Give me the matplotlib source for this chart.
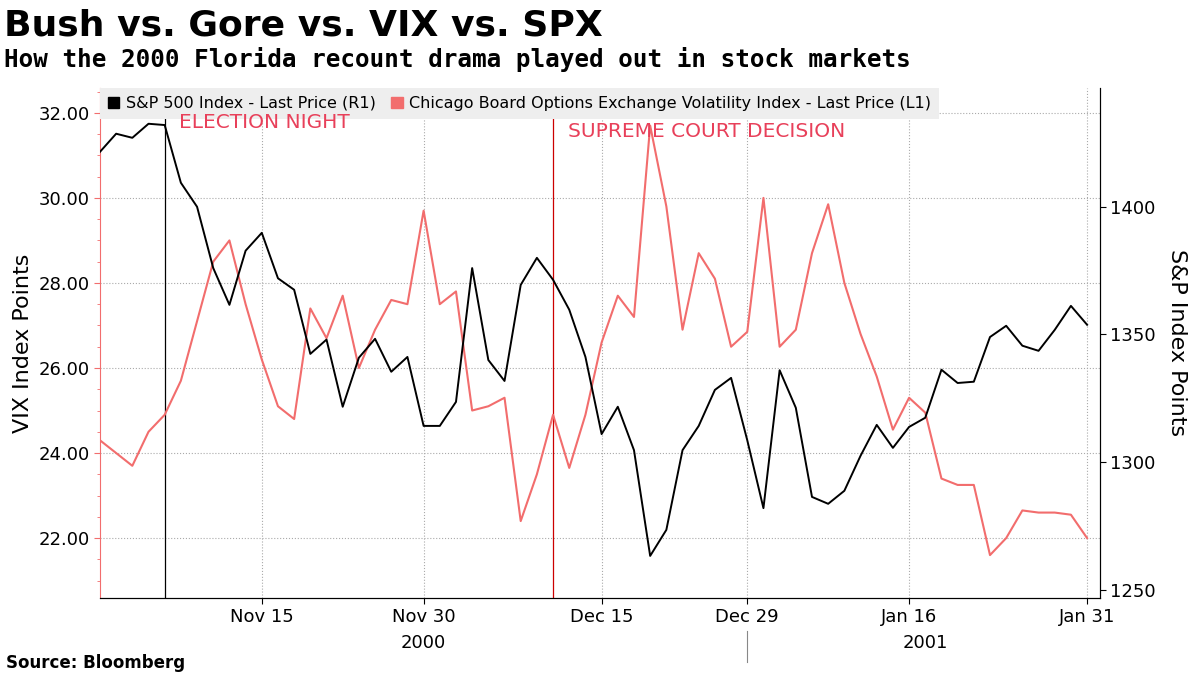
import matplotlib.pyplot as plt
import numpy as np
import pandas as pd
from matplotlib.patches import Patch

# trading days Nov 1 2000 - Jan 31 2001
holidays = ["2000-11-23", "2000-12-25", "2001-01-01", "2001-01-15"]
days = pd.bdate_range("2000-11-01", "2001-01-31")
days = days[~days.isin(pd.to_datetime(holidays))]

spx = [1421.5, 1428.6, 1427.0, 1432.5, 1432.0, 1409.4, 1400.0, 1376.0, 1361.6, 1382.8,
       1389.8, 1372.0, 1367.5, 1342.4, 1348.0, 1321.7, 1340.9, 1348.3, 1335.4, 1341.2,
       1314.2, 1314.2, 1323.6, 1376.0, 1340.0, 1331.8, 1369.4, 1380.0, 1371.4, 1359.7,
       1341.2, 1311.0, 1321.7, 1304.7, 1263.3, 1273.5, 1304.7, 1314.2, 1328.3, 1333.0,
       1308.6, 1282.0, 1336.0, 1321.3, 1286.4, 1283.7, 1288.8, 1302.5, 1314.6, 1305.6,
       1313.8, 1317.4, 1336.2, 1331.0, 1331.5, 1349.0, 1353.4, 1345.6, 1343.6, 1351.8,
       1361.2, 1353.8]
vix = [24.3, 24.0, 23.7, 24.5, 24.9, 25.7, 27.1, 28.5, 29.0, 27.5,
       26.2, 25.1, 24.8, 27.4, 26.7, 27.7, 26.0, 26.9, 27.6, 27.5,
       29.7, 27.5, 27.8, 25.0, 25.1, 25.3, 22.4, 23.5, 24.9, 23.65,
       24.9, 26.6, 27.7, 27.2, 31.7, 29.8, 26.9, 28.7, 28.1, 26.5,
       26.85, 30.0, 26.5, 26.9, 28.7, 29.85, 28.0, 26.8, 25.8, 24.55,
       25.3, 24.95, 23.4, 23.25, 23.25, 21.6, 22.0, 22.65, 22.6, 22.6,
       22.55, 22.0]
tick_dates = ["2000-11-15", "2000-11-30", "2000-12-15", "2000-12-29", "2001-01-16", "2001-01-31"]
tick_labels = ["Nov 15", "Nov 30", "Dec 15", "Dec 29", "Jan 16", "Jan 31"]
events = [("2000-11-07", "ELECTION NIGHT", "black", 0.95), ("2000-12-12", "SUPREME COURT DECISION", "#cc0000", 0.933)]

red = "#f26d6d"
x = np.arange(len(days))
pos = {d: i for i, d in enumerate(days)}

fig = plt.figure(figsize=(12, 6.75), dpi=100)
ax = fig.add_axes([0.0833, 0.114, 0.8334, 0.756])
ax2 = ax.twinx()

ax.plot(x, vix, color=red, lw=1.5, zorder=3)
ax2.plot(x, spx, color="black", lw=1.4, zorder=3)

ax.set_ylim(20.59, 32.59)
ax2.set_ylim(1246.8, 1446.6)
ax.set_xlim(0, len(x) - 0.2)
ax.set_yticks([22, 24, 26, 28, 30, 32])
ax.set_yticklabels([f"{v:.2f}" for v in [22, 24, 26, 28, 30, 32]])
ax.set_yticks(np.arange(21, 33, 0.5), minor=True)
ax2.set_yticks([1250, 1300, 1350, 1400])

xt = [pos[pd.Timestamp(d)] for d in tick_dates]
ax.set_xticks(xt)
ax.set_xticklabels(tick_labels)
ax.grid(True, linestyle=":", color="#aaaaaa", lw=0.8)

handles = [Patch(color="black", label="S&P 500 Index - Last Price (R1)"),
           Patch(color=red, label="Chicago Board Options Exchange Volatility Index - Last Price (L1)")]
leg = ax2.legend(handles=handles, loc="upper left", ncol=2, fontsize=11.5, frameon=True,
                 fancybox=False, facecolor="#eeeeee", edgecolor="none", framealpha=1,
                 borderaxespad=0, handlelength=0.7, handleheight=0.7, columnspacing=1.0,
                 handletextpad=0.4, borderpad=0.5)
leg.set_zorder(1)

for d, label, c, ty in events:
    i = pos[pd.Timestamp(d)]
    ax.axvline(i, color=c, lw=0.9, zorder=2)
    ax2.text(i + 0.9, ty, label, color="#e8405a", fontsize=14.5, va="top", ha="left",
             transform=ax2.get_xaxis_transform(), zorder=10)

for a in (ax, ax2):
    a.spines["top"].set_visible(False)
    a.tick_params(labelsize=13, length=4)
ax.spines["left"].set_color(red)
ax.tick_params(axis="y", colors=red, labelcolor="black", which="both")
ax.tick_params(axis="y", which="minor", length=2)
ax2.spines["left"].set_visible(False)

ax.set_ylabel("VIX Index Points", fontsize=16)
ax2.set_ylabel("S&P Index Points", fontsize=16, rotation=270, labelpad=22)

# year labels
ax.text(pos[pd.Timestamp("2000-11-30")], -0.07, "2000", transform=ax.get_xaxis_transform(),
        ha="center", va="top", fontsize=13)
ax.text(pos[pd.Timestamp("2001-01-17")], -0.07, "2001", transform=ax.get_xaxis_transform(),
        ha="center", va="top", fontsize=13)
ax.plot([pos[pd.Timestamp("2000-12-29")]] * 2, [-0.065, -0.125], color="#888888", lw=0.8,
        transform=ax.get_xaxis_transform(), clip_on=False)

fig.text(0.003, 0.988, "Bush vs. Gore vs. VIX vs. SPX", fontsize=26, fontweight="bold", va="top")
fig.text(0.003, 0.93, "How the 2000 Florida recount drama played out in stock markets",
         fontsize=17.5, fontweight="bold", va="top", family="DejaVu Sans Mono")
fig.text(0.005, 0.005, "Source: Bloomberg", fontsize=12, fontweight="bold", va="bottom")

fig.savefig("out.png", dpi=100)
